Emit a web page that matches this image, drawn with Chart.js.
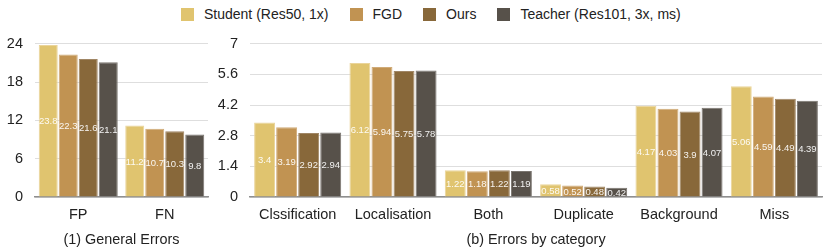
<!DOCTYPE html>
<html>
<head>
<meta charset="utf-8">
<script src="https://cdn.jsdelivr.net/npm/chart.js@4/dist/chart.umd.min.js"></script>
<style>
  body { margin: 0; background: #fff; font-family: "Liberation Sans", Arial, sans-serif; }
  #wrap { position: relative; width: 830px; height: 252px; }
  #legend { position: absolute; left: 181px; top: 6px; display: flex; font-size: 14px; color: #222; }
  #legend .item { display: flex; align-items: center; margin-right: 21px; }
  #legend .box { width: 13px; height: 13px; margin-right: 10px; }
  #c1 { position: absolute; left: 0; top: 23px; }
  #c2 { position: absolute; left: 212px; top: 23px; }
</style>
</head>
<body>
<div id="wrap">
  <div id="legend"></div>
  <canvas id="c1" width="214" height="229"></canvas>
  <canvas id="c2" width="618" height="229"></canvas>
</div>
<script>
const seriesNames = ['Student (Res50, 1x)', 'FGD', 'Ours', 'Teacher (Res101, 3x, ms)'];
const seriesColors = ['#e0c46f', '#c19352', '#88683a', '#57514a'];
const seriesBorders = ['#ead49a', '#d0ab78', '#a08665', '#7a756f'];

const generalCats = ['FP', 'FN'];
const generalStudent = [23.8, 11.2];
const generalFGD = [22.3, 10.7];
const generalOurs = [21.6, 10.3];
const generalTeacher = [21.1, 9.8];
const generalTicks = [0, 6, 12, 18, 24];

const catCats = ['Clssification', 'Localisation', 'Both', 'Duplicate', 'Background', 'Miss'];
const catStudent = [3.4, 6.12, 1.22, 0.58, 4.17, 5.06];
const catFGD = [3.19, 5.94, 1.18, 0.52, 4.03, 4.59];
const catOurs = [2.92, 5.75, 1.22, 0.48, 3.9, 4.49];
const catTeacher = [2.94, 5.78, 1.19, 0.42, 4.07, 4.39];
const catTicks = [0, 1.4, 2.8, 4.2, 5.6, 7];

const FONT = '"Liberation Sans", Arial, sans-serif';

// html legend
const legend = document.getElementById('legend');
seriesNames.forEach((n, i) => {
  const it = document.createElement('div');
  it.className = 'item';
  it.innerHTML = '<span class="box" style="background:' + seriesColors[i] + '"></span><span>' + n + '</span>';
  legend.appendChild(it);
});

// value labels in the middle of each bar
const midLabels = {
  id: 'midLabels',
  afterDatasetsDraw(chart) {
    const ctx = chart.ctx;
    ctx.save();
    ctx.font = '9.5px ' + FONT;
    ctx.fillStyle = 'rgba(255,255,255,0.92)';
    ctx.textAlign = 'center';
    ctx.textBaseline = 'middle';
    chart.data.datasets.forEach((ds, di) => {
      chart.getDatasetMeta(di).data.forEach((bar, i) => {
        ctx.fillText(String(ds.data[i]), bar.x, (bar.y + bar.base) / 2 + 1);
      });
    });
    ctx.restore();
  }
};

function makeSets(lists) {
  return lists.map((d, i) => ({
    label: seriesNames[i],
    data: d,
    backgroundColor: seriesColors[i],
    borderColor: seriesBorders[i],
    borderWidth: 1,
    categoryPercentage: 0.925,
    barPercentage: 0.95
  }));
}

function makeChart(id, cats, lists, ticks, step, title, yWidth, padRight) {
  return new Chart(document.getElementById(id), {
    type: 'bar',
    data: { labels: cats, datasets: makeSets(lists) },
    plugins: [midLabels],
    options: {
      responsive: false,
      animation: false,
      layout: { padding: { top: 5, right: padRight, bottom: 0, left: 0 } },
      plugins: { legend: { display: false }, tooltip: { enabled: false } },
      scales: {
        x: {
          grid: { display: false, drawTicks: false },
          border: { color: '#8f8f8f', width: 1.5 },
          ticks: { color: '#222', font: { family: FONT, size: 14.5 }, padding: 9 },
          title: { display: true, text: title, color: '#222', font: { family: FONT, size: 14.4 }, padding: { top: 0, bottom: 3 } },
          afterFit(s) { s.height = 55; }
        },
        y: {
          min: 0,
          max: ticks[ticks.length - 1],
          grid: { color: '#dedede', lineWidth: 1, drawTicks: false },
          border: { display: false },
          ticks: {
            stepSize: step,
            padding: 12,
            color: '#222',
            font: { family: FONT, size: 14.5 },
            callback(v) {
              const t = ticks.find(k => Math.abs(k - v) < 1e-6);
              return t === undefined ? '' : String(t);
            }
          },
          afterFit(s) { s.width = yWidth; }
        }
      }
    }
  });
}

makeChart('c1', generalCats, [generalStudent, generalFGD, generalOurs, generalTeacher],
  generalTicks, 6, '(1) General Errors', 35, 6);
makeChart('c2', catCats, [catStudent, catFGD, catOurs, catTeacher],
  catTicks, 0.7, '(b) Errors by category', 38, 8);
</script>
</body>
</html>
